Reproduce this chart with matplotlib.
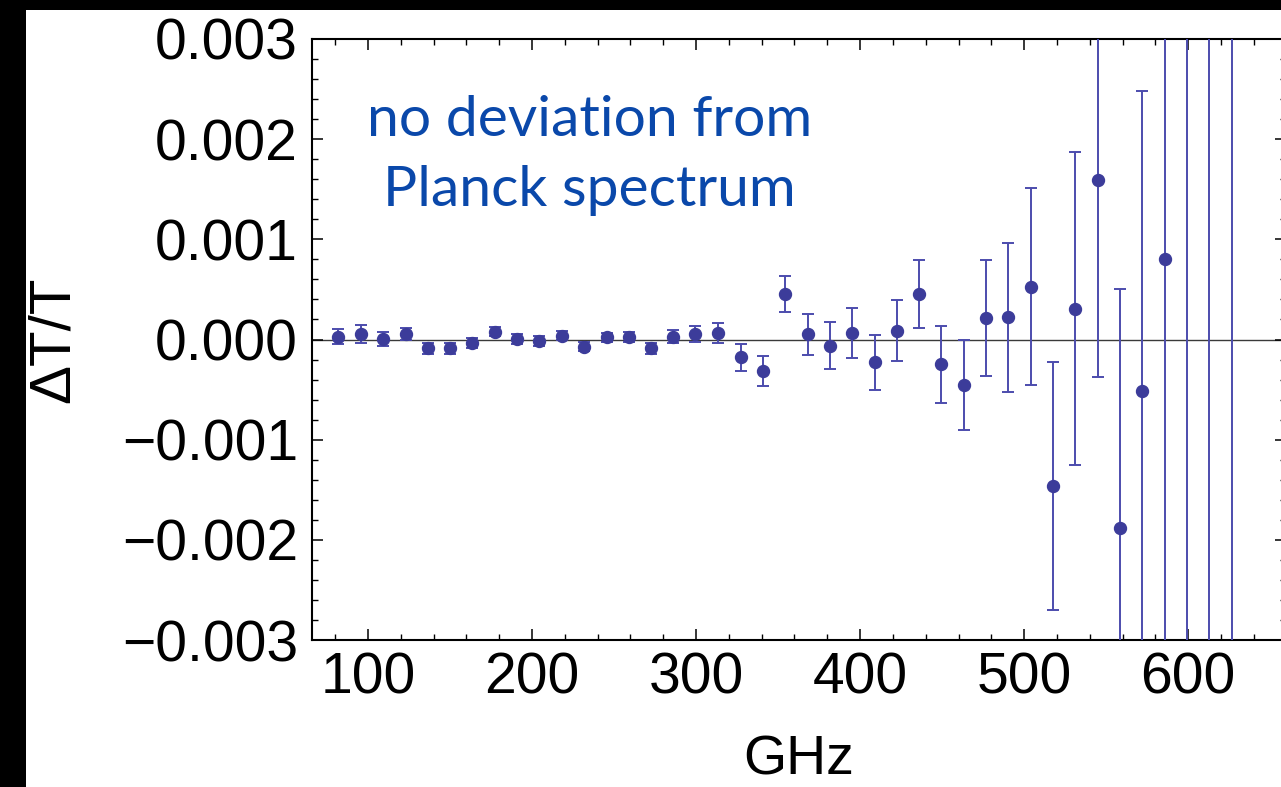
import matplotlib
matplotlib.use("Agg")
import matplotlib.pyplot as plt
from matplotlib.patches import Rectangle
from matplotlib.ticker import MultipleLocator, FuncFormatter

# Residuals of the measured spectrum w.r.t. a blackbody, in units of T
freq_ghz = [81.9, 95.7, 109.3, 123.0, 136.4, 150.0, 163.6, 177.4, 190.8, 204.4,
            218.1, 231.5, 245.5, 258.9, 272.3, 286.1, 299.5, 313.5, 327.2, 340.8,
            354.4, 368.0, 381.6, 395.2, 408.8, 422.4, 436.0, 449.6, 463.2, 476.8,
            490.4, 504.0, 517.6, 531.2, 544.8, 558.4, 572.0, 585.6, 599.2, 612.8,
            626.4]
dT_over_T = [2.8e-5, 5.5e-5, 0.5e-5, 5.5e-5, -8.8e-5, -8.8e-5, -3.2e-5, 7.8e-5, 0.2e-5, -1.5e-5,
             3.8e-5, -7.2e-5, 2.2e-5, 2.2e-5, -8.8e-5, 2.8e-5, 5.5e-5, 6.2e-5, -17.8e-5, -31.8e-5,
             45.2e-5, 5.2e-5, -6.2e-5, 6.5e-5, -22.8e-5, 8.8e-5, 45.5e-5, -24.8e-5, -45.5e-5, 21.8e-5,
             22.2e-5, 52.8e-5, -146.2e-5, 30.8e-5, 158.8e-5, -188.5e-5, -51.5e-5, 80.5e-5, 320e-5, -350e-5,
             400e-5]
sigma = [7.5e-5, 8.7e-5, 7.0e-5, 6.0e-5, 5.8e-5, 5.5e-5, 5.0e-5, 4.3e-5, 5.0e-5, 4.7e-5,
         4.3e-5, 4.5e-5, 4.3e-5, 4.8e-5, 5.3e-5, 6.7e-5, 8.0e-5, 10.0e-5, 13.5e-5, 15.0e-5,
         17.8e-5, 20.5e-5, 23.2e-5, 25.3e-5, 27.7e-5, 30.5e-5, 33.7e-5, 38.7e-5, 45.0e-5, 57.8e-5,
         74.3e-5, 98.3e-5, 123.7e-5, 156.3e-5, 196.0e-5, 239.0e-5, 299.3e-5, 420e-5, 700e-5, 800e-5,
         900e-5]

plt.rcParams['font.family'] = ['Liberation Sans', 'DejaVu Sans']

W, H = 1281, 787
fig = plt.figure(figsize=(W / 100, H / 100), dpi=100)
fig.patch.set_facecolor('black')
# white slide area inside the black frame
fig.add_artist(Rectangle((26 / W, 0), 1 - 26 / W, (H - 10) / H,
                         transform=fig.transFigure, facecolor='white',
                         edgecolor='none', zorder=0))

ax = fig.add_axes([312 / W, 147 / H, (1286 - 312) / W, (748 - 147) / H])
ax.set_facecolor('white')

ax.axhline(0, color='#3a3a3a', lw=1.0, zorder=1)
ax.errorbar(freq_ghz, dT_over_T, yerr=sigma, fmt='o', color='#3c3c9a',
            ecolor='#4c4cad', elinewidth=1.4, capsize=4.3, capthick=1.4,
            markersize=8.6, zorder=3)

ax.set_xlim(65.9, 659.6)
ax.set_ylim(-0.003, 0.003)

ax.xaxis.set_major_locator(MultipleLocator(100))
ax.xaxis.set_minor_locator(MultipleLocator(20))
ax.yaxis.set_major_locator(MultipleLocator(0.001))
ax.yaxis.set_minor_locator(MultipleLocator(0.0002))


def fmt_y(v, pos):
    s = f"{v:.3f}"
    if s == "-0.000":
        s = "0.000"
    return s.replace('-', '\u2212')


ax.yaxis.set_major_formatter(FuncFormatter(fmt_y))

ax.tick_params(which='both', direction='in', top=True, right=True, color='black')
ax.tick_params(which='major', length=7.9, width=1.1, labelsize=41)
ax.tick_params(which='minor', length=4.3, width=1.0)
ax.tick_params(axis='y', which='major', pad=10)
ax.tick_params(axis='x', which='major', pad=8)

for sp in ax.spines.values():
    sp.set_linewidth(1.5)
    sp.set_color('black')

ax.set_xlabel("GHz", fontsize=40, labelpad=21)
ax.set_ylabel("\u0394T/T", fontsize=42, labelpad=30)

ax.text(0.285, 0.806, "no deviation from\nPlanck spectrum", transform=ax.transAxes,
        ha='center', va='center', fontsize=41, color='#0a48aa',
        family=['Lato', 'DejaVu Sans'], linespacing=1.45)

fig.savefig('out.png', dpi=100, facecolor=fig.get_facecolor())
